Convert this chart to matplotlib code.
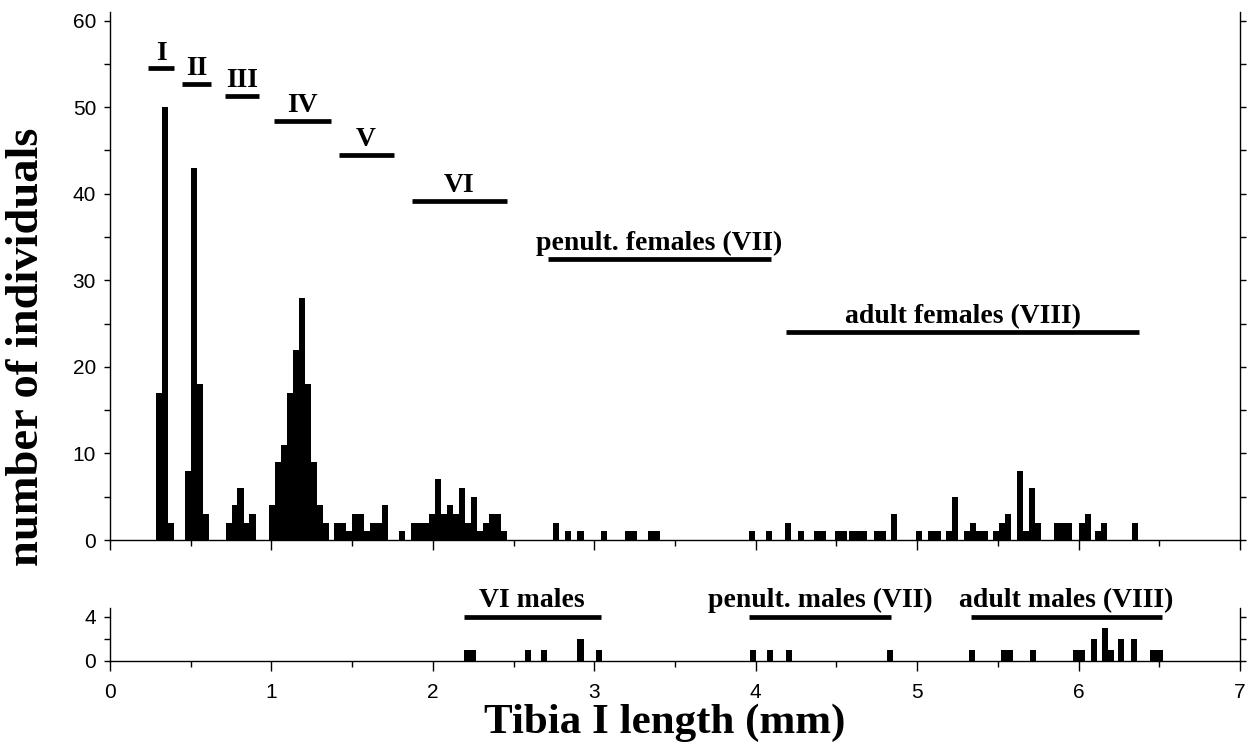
import numpy as np
import matplotlib.pyplot as plt

# Histogram of tibia I length, bins of ~0.037 mm
# each run = first bin edge (mm) + consecutive bin counts
BIN_W = 0.0368

fem_start = [0.284, 0.462, 0.716, 0.988, 1.389, 1.790, 1.867, 2.746, 2.818, 2.895,
             3.040, 3.190, 3.335, 3.960, 4.063, 4.183, 4.260, 4.363, 4.490, 4.578,
             4.735, 4.838, 4.994, 5.070, 5.180, 5.290, 5.469, 5.618, 5.846, 6.000,
             6.100, 6.330]
fem_counts = [[17, 50, 2], [8, 43, 18, 3], [2, 4, 6, 2, 3],
              [4, 9, 11, 17, 22, 28, 18, 9, 4, 2], [2, 2, 1, 3, 3, 1, 2, 2, 4], [1],
              [2, 2, 2, 3, 7, 3, 4, 3, 6, 2, 5, 1, 2, 3, 3, 1],
              [2], [1], [1], [1], [1, 1], [1, 1], [1], [1], [2], [1], [1, 1], [1, 1],
              [1, 1, 1], [1, 1], [3], [1], [1, 1], [1, 5], [1, 2, 1, 1], [1, 2, 3],
              [8, 1, 6, 2], [2, 2, 2], [2, 3], [1, 2], [2]]

male_start = [2.192, 2.570, 2.671, 2.895, 3.012, 3.966, 4.067, 4.187, 4.811, 5.320,
              5.520, 5.697, 5.965, 6.078, 6.145, 6.245, 6.323, 6.445]
male_counts = [[1, 1], [1], [1], [2], [1], [1], [1], [1], [1], [1], [1, 1], [1],
               [1, 1], [2], [3, 1], [2], [2], [1, 1]]

# instar ranges shown as bars above the histogram
stage_names = ['I', 'II', 'III', 'IV', 'V', 'VI',
               'penult. females (VII)', 'adult females (VIII)']
stage_x0 = [0.233, 0.443, 0.714, 1.013, 1.416, 1.869, 2.712, 4.189]
stage_x1 = [0.399, 0.627, 0.925, 1.371, 1.757, 2.458, 4.096, 6.373]
stage_y = [54.5, 52.7, 51.3, 48.4, 44.5, 39.2, 32.5, 24.0]

male_names = ['VI males', 'penult. males (VII)', 'adult males (VIII)']
male_x0 = [2.192, 3.960, 5.335]
male_x1 = [3.040, 4.840, 6.517]
male_y = [4.0, 4.0, 4.0]

SERIF = ['Liberation Serif', 'DejaVu Serif']
plt.rcParams['font.family'] = ['Liberation Sans', 'DejaVu Sans']

fig = plt.figure(figsize=(12.49, 7.42), dpi=100)
ax = fig.add_axes([110 / 1249, 1 - 540 / 742, 1130 / 1249, 528 / 742])
ax2 = fig.add_axes([110 / 1249, 1 - 660.5 / 742, 1130 / 1249, 52.5 / 742])


def draw_runs(a, starts, counts):
    for s, c in zip(starts, counts):
        lefts = s + BIN_W * np.arange(len(c))
        a.bar(lefts, c, width=BIN_W * 1.04, align='edge', color='black', linewidth=0)


draw_runs(ax, fem_start, fem_counts)
draw_runs(ax2, male_start, male_counts)

for name, x0, x1, y in zip(stage_names, stage_x0, stage_x1, stage_y):
    ax.plot([x0, x1], [y, y], color='black', lw=3.4, solid_capstyle='butt')
    ax.text((x0 + x1) / 2, y + 1.0, name, ha='center', va='baseline',
            family=SERIF, fontweight='bold', fontsize=20)

for name, x0, x1, y in zip(male_names, male_x0, male_x1, male_y):
    ax2.plot([x0, x1], [y, y], color='black', lw=3.4, solid_capstyle='butt', clip_on=False)
    ax2.text((x0 + x1) / 2, y + 0.85, name, ha='center', va='baseline',
             family=SERIF, fontweight='bold', fontsize=20, clip_on=False)

# axes styling for both panels
for a in (ax, ax2):
    a.set_xlim(0, 7)
    a.spines['top'].set_visible(False)
    for sp in ('left', 'right', 'bottom'):
        a.spines[sp].set_linewidth(1.0)
    a.set_xticks(np.arange(0, 8, 1))
    a.set_xticks(np.arange(0.5, 7, 1), minor=True)
    a.tick_params(axis='x', which='major', direction='out', length=7, width=1.0)
    a.tick_params(axis='x', which='minor', direction='out', length=4, width=1.0)
    a.tick_params(axis='y', which='both', direction='out', length=4, width=1.0,
                  left=True, right=True, labelsize=15, pad=6)

ax.set_ylim(0, 61)
ax.set_yticks(np.arange(0, 61, 10))
ax.set_yticks(np.arange(5, 61, 10), minor=True)
ax.tick_params(axis='x', labelbottom=False)

ax2.set_ylim(0, 4.8)
ax2.set_yticks([0, 2, 4])
ax2.set_yticklabels(['0', '', '4'])
ax2.tick_params(axis='x', labelsize=15, pad=9)

fig.text(27 / 1249, 1 - 347 / 742, 'number of individuals', rotation=90,
         ha='center', va='center', family=SERIF, fontweight='bold', fontsize=33.5)
fig.text(665 / 1249, 1 - 733 / 742, 'Tibia I length (mm)', ha='center', va='baseline',
         family=SERIF, fontweight='bold', fontsize=31)

plt.savefig('out.png', dpi=100)
